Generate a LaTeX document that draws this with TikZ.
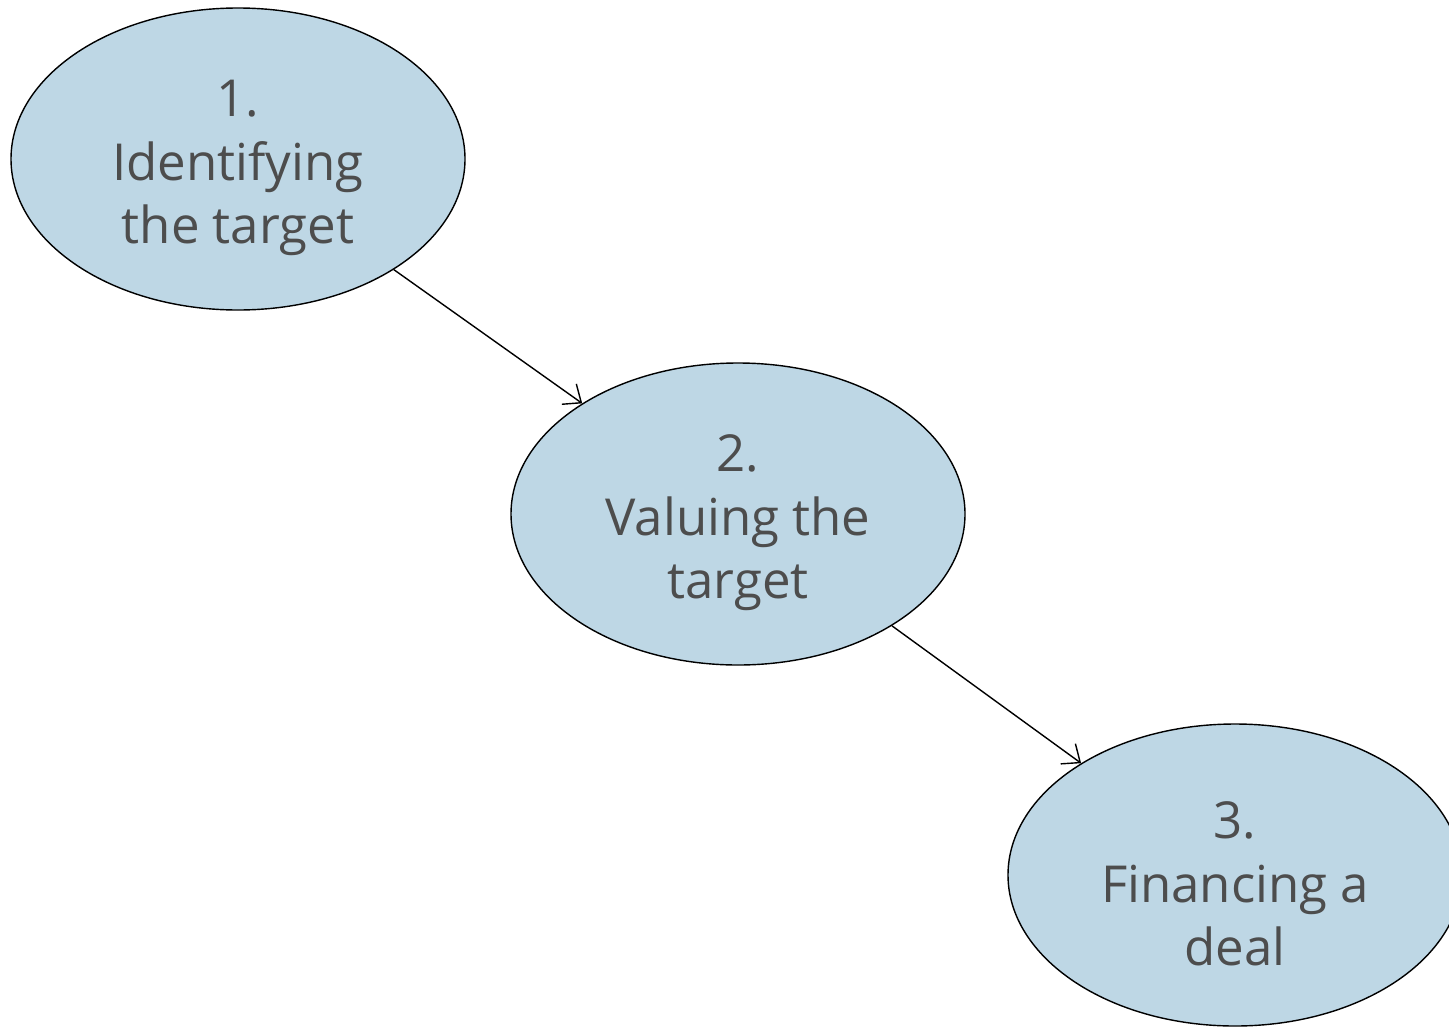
\documentclass[tikz,border=0pt]{standalone}
\usepackage{fontspec}
\setmainfont{Open Sans}
\usetikzlibrary{shapes.geometric,arrows.meta}
\definecolor{stagefill}{HTML}{BED7E5}
\definecolor{stagetext}{HTML}{4D4D4D}
\newcommand{\toprule}{\rule{0pt}{31pt}}
\begin{document}
\begin{tikzpicture}
  [stage/.style={draw=black,fill=stagefill,ellipse,line width=0.8pt,inner sep=0pt,
     minimum width=9.08cm,minimum height=6.04cm,text=stagetext,align=center,
     font=\fontsize{29}{36}\selectfont},
   link/.style={->,>={Straight Barb[length=3mm,width=5mm]},line width=0.8pt}]
  \useasboundingbox (0,0) rectangle (28.98,-20.52);
  \node[stage] (s1) at (4.76,-3.18) {\toprule 1.\\Identifying\\the target};
  \node[stage] (s2) at (14.76,-10.28) {\toprule 2.\\Valuing the\\target};
  \node[stage] (s3) at (24.70,-17.50) {\toprule 3.\\Financing a\\deal};
  \draw[link] (s1) -- (s2);
  \draw[link] (s2) -- (s3);
\end{tikzpicture}
\end{document}
